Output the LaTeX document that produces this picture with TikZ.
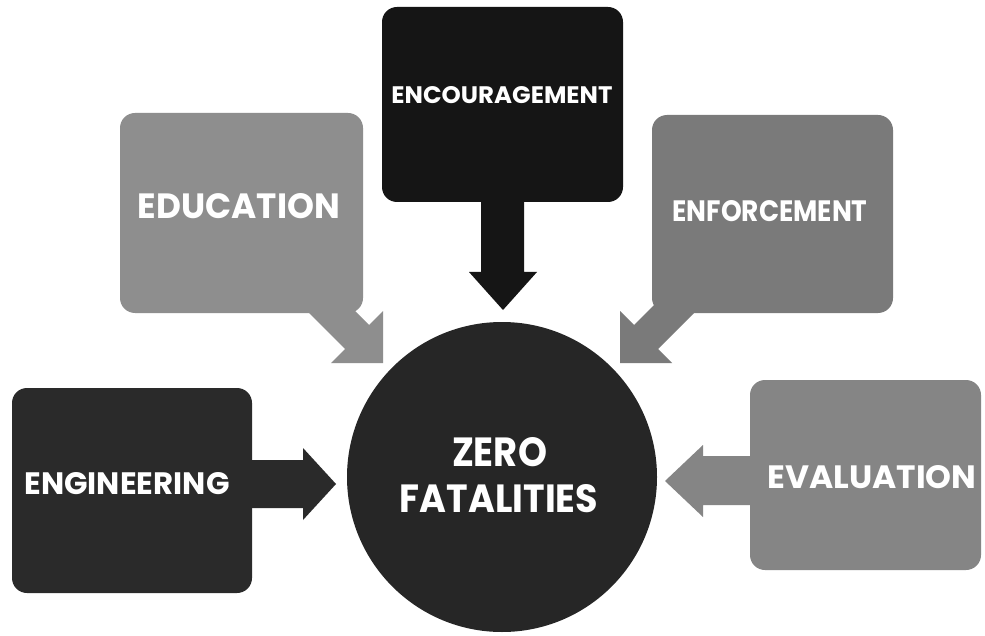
\documentclass[tikz,border=0pt]{standalone}
\usepackage{fontspec}
\usepackage{graphicx}
\setmainfont{Poppins}
\definecolor{cEdu}{HTML}{8E8E8E}
\definecolor{cEnc}{HTML}{151515}
\definecolor{cEnf}{HTML}{7A7A7A}
\definecolor{cEng}{HTML}{2A2A2A}
\definecolor{cZero}{HTML}{262626}
\definecolor{cEva}{HTML}{858585}
\newcommand{\fitwh}[3]{\resizebox{#1pt}{#2pt}{\bfseries #3}}
\begin{document}
\begin{tikzpicture}[x=1pt,y=-1pt,
  boxnode/.style={rounded corners=15pt, inner sep=0pt},
  lbl/.style={text=white, inner sep=0pt, anchor=center}]
\useasboundingbox[fill=white] (0,0) rectangle (985,636);

% ---------- centre circle ----------
\fill[cZero] (502,477) circle (155);
\node[circle, minimum size=310pt, inner sep=0pt] (zero) at (502,477) {};
\node[lbl] (zerot1) at (499.5,452.5) {\fitwh{95}{29}{ZERO}};
\node[lbl] (zerot2) at (499,499) {\fitwh{198}{28}{FATALITIES}};

% ---------- EDUCATION ----------
\fill[cEdu, rounded corners=15pt] (120,113) rectangle (363,313);
\node[boxnode, minimum width=243pt, minimum height=200pt] (edu) at (241.5,213) {};
\coordinate (eduA) at (296,300);
\coordinate (eduTip) at (383,363);
\fill[cEdu] (eduA) -- (345,349) -- (331,363) -- (eduTip) -- (383,311) -- (369,325) -- (344,300) -- cycle;
\node[lbl] (edut) at (239,206) {\fitwh{202}{25}{EDUCATION}};

% ---------- ENCOURAGEMENT ----------
\fill[cEnc, rounded corners=15pt] (382,7) rectangle (623,202);
\node[boxnode, minimum width=241pt, minimum height=195pt] (enc) at (502.5,104.5) {};
\coordinate (encTip) at (503,310);
\fill[cEnc] (481,195) -- (481,272) -- (469,272) -- (encTip) -- (537,272) -- (524,272) -- (524,195) -- cycle;
\node[lbl] (enct) at (502,95) {\fitwh{221}{17}{ENCOURAGEMENT}};

% ---------- ENFORCEMENT ----------
\fill[cEnf, rounded corners=15pt] (652,115) rectangle (893,313);
\node[boxnode, minimum width=241pt, minimum height=198pt] (enf) at (772.5,214) {};
\coordinate (enfTip) at (620,363);
\fill[cEnf] (665,294) -- (634,325) -- (620,311) -- (enfTip) -- (672,363) -- (658,349) -- (707,300) -- cycle;
\node[lbl] (enft) at (770,211) {\fitwh{195}{21}{ENFORCEMENT}};

% ---------- ENGINEERING ----------
\fill[cEng, rounded corners=15pt] (12,388) rectangle (252,593);
\node[boxnode, minimum width=240pt, minimum height=205pt] (eng) at (132,490.5) {};
\coordinate (engTip) at (336,484);
\fill[cEng] (245,460) -- (303,460) -- (303,448) -- (engTip) -- (303,520) -- (303,508) -- (245,508) -- cycle;
\node[lbl] (engt) at (127,484) {\fitwh{205}{22}{ENGINEERING}};

% ---------- EVALUATION ----------
\fill[cEva, rounded corners=15pt] (750,380) rectangle (981,570);
\node[boxnode, minimum width=231pt, minimum height=190pt] (eva) at (865.5,475) {};
\coordinate (evaTip) at (665,481);
\fill[cEva] (757,456) -- (703,456) -- (703,445) -- (evaTip) -- (703,517) -- (703,505) -- (757,505) -- cycle;
\node[lbl] (evat) at (872,477) {\fitwh{209}{23}{EVALUATION}};
\end{tikzpicture}
\end{document}
